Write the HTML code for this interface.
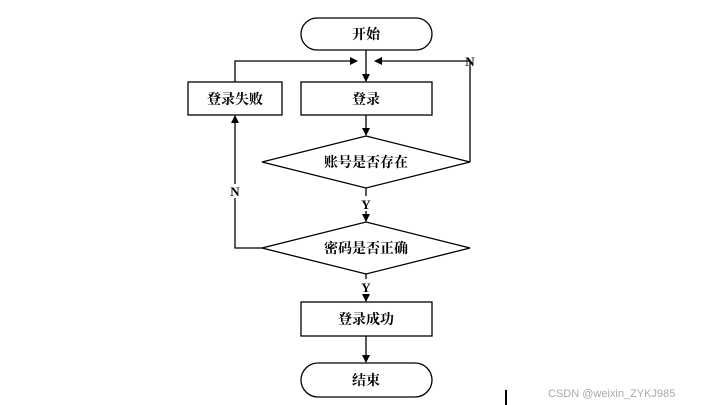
<!DOCTYPE html>
<html><head><meta charset="utf-8"><style>
html,body{margin:0;padding:0;background:#fff;width:703px;height:405px;overflow:hidden}
svg text{font-family:"Liberation Serif","Noto Serif CJK SC",serif;font-weight:bold;fill:#000}
</style></head><body>
<svg width="703" height="405" viewBox="0 0 703 405" xmlns="http://www.w3.org/2000/svg">
<defs><marker id="a" markerWidth="8" markerHeight="8" refX="7" refY="4" orient="auto" markerUnits="userSpaceOnUse"><path d="M0,0 L8,4 L0,8 Z" fill="#000"/></marker></defs>
<g stroke="#000" stroke-width="1.3" fill="none">
<rect x="301" y="18" width="131" height="32" rx="16"/>
<rect x="301" y="82" width="131" height="33"/>
<rect x="188" y="82" width="94" height="33"/>
<polygon points="366,136 470,162 366,188 262,162"/>
<polygon points="366,222 470,248 366,274 262,248"/>
<rect x="301" y="302" width="131" height="34"/>
<rect x="301" y="363" width="131" height="34" rx="17"/>
<line x1="366" y1="50" x2="366" y2="81" marker-end="url(#a)"/>
<polyline points="235,82 235,61 357,61" marker-end="url(#a)"/>
<polyline points="470,162 470,61 375,61" marker-end="url(#a)"/>
<line x1="366" y1="115" x2="366" y2="135" marker-end="url(#a)"/>
<line x1="366" y1="188" x2="366" y2="196"/>
<line x1="366" y1="211" x2="366" y2="221" marker-end="url(#a)"/>
<polyline points="262,248 235,248 235,198"/>
<line x1="235" y1="184" x2="235" y2="116" marker-end="url(#a)"/>
<line x1="366" y1="274" x2="366" y2="279"/>
<line x1="366" y1="295" x2="366" y2="301" marker-end="url(#a)"/>
<line x1="366" y1="336" x2="366" y2="362" marker-end="url(#a)"/>
</g>
<line x1="506" y1="390" x2="506" y2="405" stroke="#000" stroke-width="2"/>
<g font-size="14" text-anchor="middle">
<text x="366" y="39">开始</text>
<text x="366" y="104">登录</text>
<text x="235" y="104">登录失败</text>
<text x="366" y="167">账号是否存在</text>
<text x="366" y="253">密码是否正确</text>
<text x="366" y="324">登录成功</text>
<text x="366" y="385">结束</text>
</g>
<g font-size="13" text-anchor="middle">
<text x="470" y="66">N</text>
<text x="235" y="196">N</text>
<text x="366" y="209">Y</text>
<text x="366" y="292">Y</text>
</g>
<text x="548" y="397" style="font-family:'Liberation Sans',sans-serif;font-weight:normal;fill:#aaa" font-size="11">CSDN @weixin_ZYKJ985</text>
</svg>
</body></html>
